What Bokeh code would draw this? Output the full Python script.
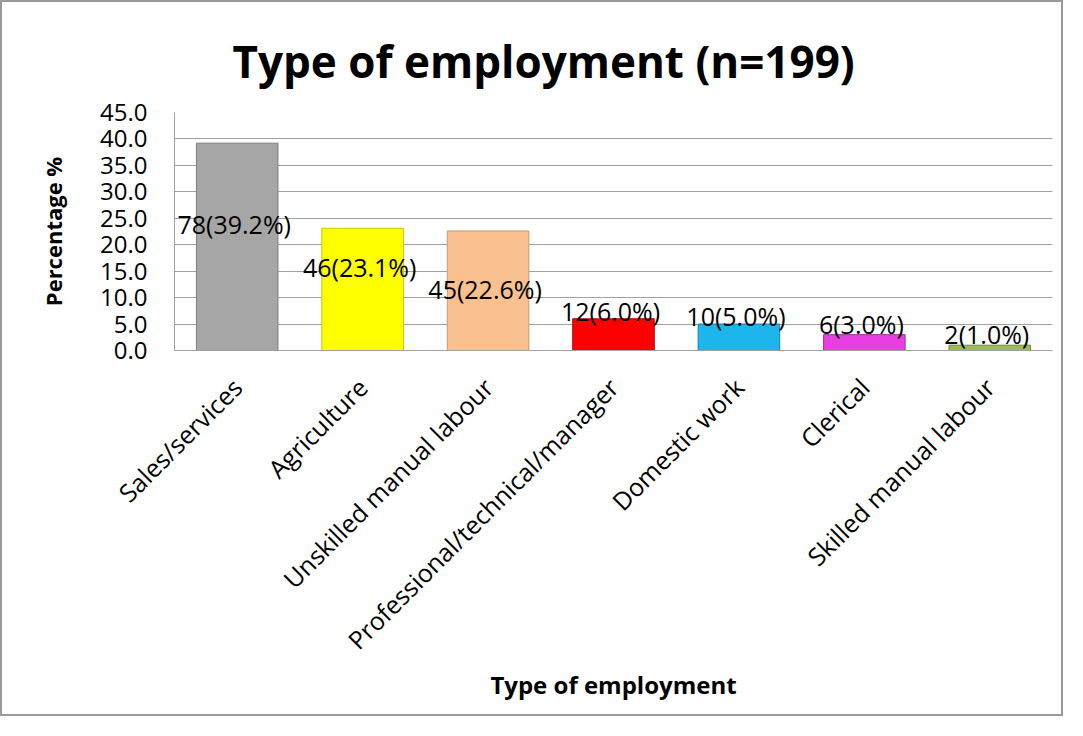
import math
from bokeh.plotting import figure
from bokeh.models import ColumnDataSource, FixedTicker, NumeralTickFormatter, FactorRange, Range1d
from bokeh.core.properties import value
from bokeh.embed import file_html
from bokeh.resources import INLINE

# ---- data ----
categories = ["Sales/services", "Agriculture", "Unskilled manual labour",
              "Professional/technical/manager", "Domestic work", "Clerical",
              "Skilled manual labour"]
counts = [78, 46, 45, 12, 10, 6, 2]
percentages = [39.2, 23.1, 22.6, 6.0, 5.0, 3.0, 1.0]
bar_colors = ["#a6a6a6", "#ffff00", "#fac090", "#ff0000", "#1cb5ec", "#e840e0", "#9bbb59"]
edge_colors = ["#7f7f7f", "#c8c800", "#c89a70", "#b00000", "#1580a8", "#a02ca0", "#6f8a3c"]
label_y = [24.0, 15.7, 11.7, 7.4, 6.6, 5.0, 3.1]
y_ticks = [0, 5, 10, 15, 20, 25, 30, 35, 40, 45]

labels = [f"{c}({p:.1f}%)" for c, p in zip(counts, percentages)]

src = ColumnDataSource(dict(cat=categories, pct=percentages, color=bar_colors,
                            edge=edge_colors, label=labels, ly=label_y))

FONT = "Open Sans"
GRID = "#a0a0a0"

p = figure(x_range=FactorRange(*categories, range_padding=0), y_range=Range1d(0, 45),
           width=1063, height=716, output_backend="svg", toolbar_location=None,
           min_border_left=172, min_border_right=13, min_border_top=110,
           min_border_bottom=368, title="Type of employment (n=199)")
p.styles = {"border": "2px solid #9a9a9a"}

p.title.text_font = FONT
p.title.text_font_size = "44px"
p.title.text_font_style = "bold"
p.title.align = "left"
p.title.offset = 58
p.title.text_color = "#000000"
p.title.vertical_align = "top"
p.title.text_line_height = 0.7
p.title.standoff = 40

p.vbar(x="cat", top="pct", width=0.65, bottom=0, source=src,
       fill_color="color", line_color="edge", line_width=1)

p.text(x="cat", y="ly", text="label", source=src, text_align="center",
       text_baseline="middle", text_font=value(FONT), text_font_size="25px",
       text_color="#000000", x_offset=-3)

p.outline_line_color = None
p.xgrid.grid_line_color = None
p.ygrid.grid_line_color = GRID
p.ygrid.grid_line_width = 1

p.yaxis.ticker = FixedTicker(ticks=y_ticks)
p.yaxis.formatter = NumeralTickFormatter(format="0.0")
p.yaxis.axis_line_color = GRID
p.yaxis.major_tick_line_color = None
p.yaxis.minor_tick_line_color = None
p.yaxis.major_tick_out = 0
p.yaxis.major_tick_in = 0
p.yaxis.major_label_text_font = FONT
p.yaxis.major_label_text_font_size = "24px"
p.yaxis.major_label_text_color = "#000000"
p.yaxis.major_label_standoff = 27
p.yaxis.axis_label = "Percentage %"
p.yaxis.axis_label_text_font = FONT
p.yaxis.axis_label_text_font_size = "22px"
p.yaxis.axis_label_text_font_style = "bold"
p.yaxis.axis_label_text_color = "#000000"
p.yaxis.axis_label_standoff = 29

p.xaxis.axis_line_color = GRID
p.xaxis.major_tick_line_color = None
p.xaxis.minor_tick_line_color = None
p.xaxis.major_tick_out = 0
p.xaxis.major_tick_in = 0
p.xaxis.major_label_orientation = math.pi / 4
p.xaxis.major_label_text_font = FONT
p.xaxis.major_label_text_font_size = "25px"
p.xaxis.major_label_text_color = "#000000"
p.xaxis.major_label_standoff = 32
p.xaxis.axis_label = "Type of employment"
p.xaxis.axis_label_text_font = FONT
p.xaxis.axis_label_text_font_size = "24px"
p.xaxis.axis_label_text_font_style = "bold"
p.xaxis.axis_label_text_color = "#000000"
p.xaxis.axis_label_standoff = -3

open("out.html", "w").write(file_html(p, INLINE))
